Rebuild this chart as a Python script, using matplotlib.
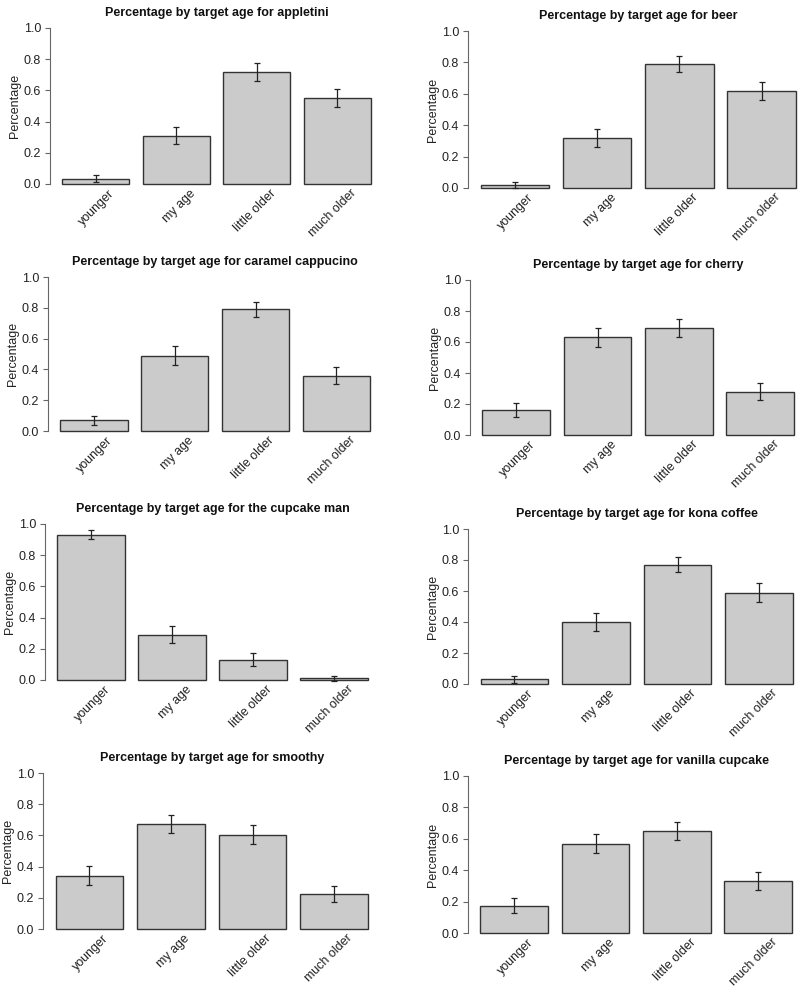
import matplotlib
matplotlib.use("Agg")
import matplotlib.pyplot as plt
from matplotlib.transforms import ScaledTranslation

plt.rcParams['font.family'] = ['Liberation Sans', 'DejaVu Sans']

categories = ["younger", "my age", "little older", "much older"]

products = ["appletini", "beer", "caramel cappucino", "cherry",
            "the cupcake man", "kona coffee", "smoothy", "vanilla cupcake"]

appletini_vals = [0.035, 0.31, 0.72, 0.55]
appletini_err = [0.022, 0.055, 0.057, 0.057]
beer_vals = [0.02, 0.32, 0.79, 0.62]
beer_err = [0.018, 0.056, 0.048, 0.057]
caramel_vals = [0.07, 0.49, 0.79, 0.36]
caramel_err = [0.030, 0.062, 0.049, 0.057]
cherry_vals = [0.16, 0.63, 0.69, 0.28]
cherry_err = [0.045, 0.061, 0.057, 0.054]
cupcake_man_vals = [0.93, 0.29, 0.13, 0.01]
cupcake_man_err = [0.029, 0.054, 0.043, 0.018]
kona_vals = [0.03, 0.40, 0.77, 0.59]
kona_err = [0.023, 0.060, 0.050, 0.060]
smoothy_vals = [0.34, 0.675, 0.605, 0.225]
smoothy_err = [0.061, 0.058, 0.060, 0.053]
vanilla_vals = [0.175, 0.57, 0.65, 0.33]
vanilla_err = [0.048, 0.058, 0.059, 0.059]

values = [appletini_vals, beer_vals, caramel_vals, cherry_vals,
          cupcake_man_vals, kona_vals, smoothy_vals, vanilla_vals]
errors = [appletini_err, beer_err, caramel_err, cherry_err,
          cupcake_man_err, kona_err, smoothy_err, vanilla_err]

yticks = [0.0, 0.2, 0.4, 0.6, 0.8, 1.0]
ytick_labels = ["0.0", "0.2", "0.4", "0.6", "0.8", "1.0"]

# layout in pixels: (axis x, right end of last bar, y of 1.0, y of 0.0)
layout = [(50, 371, 28, 184), (468, 796, 31, 188),
          (48, 370, 277, 431), (470, 794, 280, 435),
          (45, 368, 524, 680), (468, 793, 529, 684),
          (43, 368, 773, 929), (468, 792, 776, 933)]

W, H = 800, 989
fig = plt.figure(figsize=(W / 100, H / 100), dpi=100)
fig.patch.set_facecolor("white")

XL0, XL1 = 0.016, 4.984
YL0, YL1 = -0.04, 1.04
bar_w = 1.0
centers = [0.7, 1.9, 3.1, 4.3]
text_col = "#222222"

for i, (prod, vals, errs) in enumerate(zip(products, values, errors)):
    axx, right, y1, y0 = layout[i]
    unit = (right - axx) / (4.8 - XL0)
    width_px = (XL1 - XL0) * unit
    span = y0 - y1
    bottom_px = y0 + (0 - YL0) * span
    height_px = (YL1 - YL0) * span
    ax = fig.add_axes([axx / W, (H - bottom_px) / H, width_px / W, height_px / H])
    ax.bar(centers, vals, width=bar_w, color="#cbcbcb", edgecolor="#333333",
           linewidth=1.0, zorder=2)
    ax.errorbar(centers, vals, yerr=errs, fmt="none", ecolor="#222222",
                elinewidth=0.9, capsize=2.2, capthick=0.9, zorder=3)
    ax.set_xlim(XL0, XL1)
    ax.set_ylim(YL0, YL1)
    for s in ["top", "right", "bottom"]:
        ax.spines[s].set_visible(False)
    ax.spines["left"].set_bounds(0, 1)
    ax.spines["left"].set_color("#666666")
    ax.spines["left"].set_linewidth(0.8)
    ax.set_yticks(yticks)
    ax.set_yticklabels(ytick_labels, fontsize=9, color=text_col)
    ax.tick_params(axis="y", length=3.5, width=0.8, color="#666666", pad=3)
    ax.set_xticks(centers)
    ax.set_xticklabels(categories, rotation=45, ha="right", va="center",
                       rotation_mode="anchor", fontsize=9, color=text_col)
    ax.tick_params(axis="x", length=0, pad=1)
    off = ScaledTranslation(17 / 100, 0, fig.dpi_scale_trans)
    for lab in ax.get_xticklabels():
        lab.set_transform(lab.get_transform() + off)
    ax.set_ylabel("Percentage", fontsize=9, color=text_col, labelpad=2)
    ax.set_title("Percentage by target age for " + prod, fontsize=9,
                 fontweight="bold", color="#111111", pad=4)
    ax.set_facecolor("none")

fig.savefig("out.png", dpi=100, facecolor="white")
